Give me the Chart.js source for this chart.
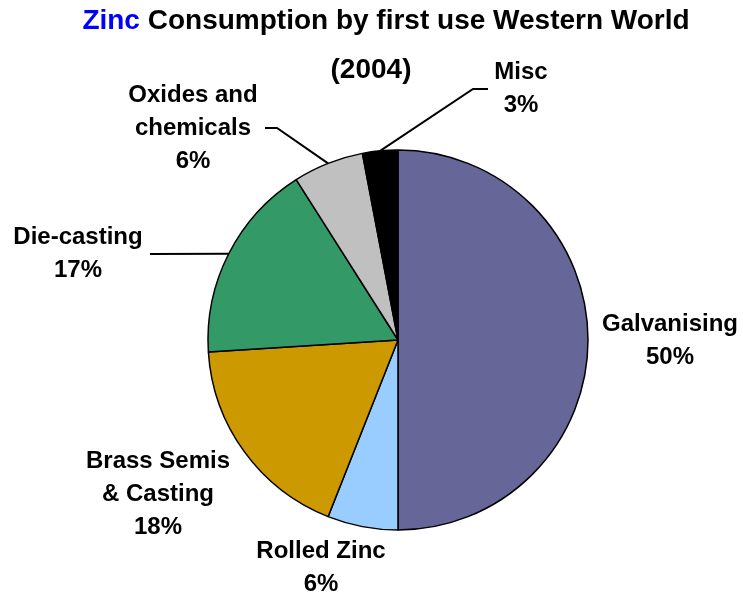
<!DOCTYPE html>
<html lang="en">
<head>
    <meta charset="UTF-8">
    <title>Zinc Consumption by first use</title>
    <script src="https://cdn.jsdelivr.net/npm/chart.js"></script>
    <style>
        html, body { margin: 0; padding: 0; background: #fff; }
        #wrap { width: 743px; height: 595px; position: relative; }
    </style>
</head>
<body>
    <div id="wrap">
        <canvas id="zincChart" width="743" height="595"></canvas>
    </div>

    <script>
        // data
        const categories = ['Galvanising', 'Rolled Zinc', 'Brass Semis & Casting', 'Die-casting', 'Oxides and chemicals', 'Misc'];
        const shares = [50, 6, 18, 17, 6, 3];
        const labelLines = [['Galvanising'], ['Rolled Zinc'], ['Brass Semis', '& Casting'], ['Die-casting'], ['Oxides and', 'chemicals'], ['Misc']];
        const sliceColors = ['#666699', '#99CCFF', '#CC9900', '#339966', '#C0C0C0', '#000000'];

        // where each label sits (centre x, first baseline) and optional leader elbow
        const labelLayout = [
            { x: 670, y: 331 },
            { x: 321, y: 558 },
            { x: 158, y: 468 },
            { x: 78, y: 244, elbow: [150, 254] },
            { x: 193, y: 102, elbow: [277, 128], tail: [265, 128] },
            { x: 521, y: 79, elbow: [473, 89], tail: [488, 89] }
        ];
        const lineGap = 33;
        const labelFont = 'bold 24px "Liberation Sans", Arial, sans-serif';

        const labelsPlugin = {
            id: 'zincLabels',
            afterDraw(chart) {
                const ctx = chart.ctx;
                const arcs = chart.getDatasetMeta(0).data;
                ctx.save();

                // title, "Zinc" in blue
                ctx.font = 'bold 28px "Liberation Sans", Arial, sans-serif';
                ctx.textBaseline = 'alphabetic';
                const w1 = ctx.measureText('Zinc ').width;
                const rest = 'Consumption by first use Western World';
                const w2 = ctx.measureText(rest).width;
                const tx = 386 - (w1 + w2) / 2;
                ctx.textAlign = 'left';
                ctx.fillStyle = '#0000FF';
                ctx.fillText('Zinc', tx, 29);
                ctx.fillStyle = '#000';
                ctx.fillText(rest, tx + w1, 29);
                ctx.textAlign = 'center';
                ctx.fillText('(2004)', 371, 78);

                // slice labels
                ctx.font = labelFont;
                ctx.textAlign = 'center';
                arcs.forEach((arc, i) => {
                    const pos = labelLayout[i];
                    const lines = labelLines[i].concat([shares[i] + '%']);
                    lines.forEach((t, k) => ctx.fillText(t, pos.x, pos.y + k * lineGap));

                    if (pos.elbow) {
                        const p = arc.getProps(['x', 'y', 'startAngle', 'endAngle', 'outerRadius'], true);
                        const mid = (p.startAngle + p.endAngle) / 2;
                        const sx = p.x + Math.cos(mid) * p.outerRadius;
                        const sy = p.y + Math.sin(mid) * p.outerRadius;
                        ctx.beginPath();
                        ctx.strokeStyle = '#000';
                        ctx.lineWidth = 2;
                        if (pos.tail) {
                            ctx.moveTo(pos.tail[0], pos.tail[1]);
                            ctx.lineTo(pos.elbow[0], pos.elbow[1]);
                        } else {
                            ctx.moveTo(pos.elbow[0], pos.elbow[1]);
                        }
                        ctx.lineTo(sx, sy);
                        ctx.stroke();
                    }
                });
                ctx.restore();
            }
        };

        const ctx = document.getElementById('zincChart').getContext('2d');
        const zincChart = new Chart(ctx, {
            type: 'pie',
            data: {
                labels: categories,
                datasets: [{
                    data: shares,
                    backgroundColor: sliceColors,
                    borderColor: '#000',
                    borderWidth: 1.5,
                    radius: 190
                }]
            },
            options: {
                responsive: false,
                animation: false,
                layout: { padding: { left: 208, right: 155, top: 150, bottom: 65 } },
                plugins: {
                    legend: { display: false },
                    title: { display: false },
                    tooltip: { enabled: false }
                }
            },
            plugins: [labelsPlugin]
        });
    </script>
</body>
</html>
